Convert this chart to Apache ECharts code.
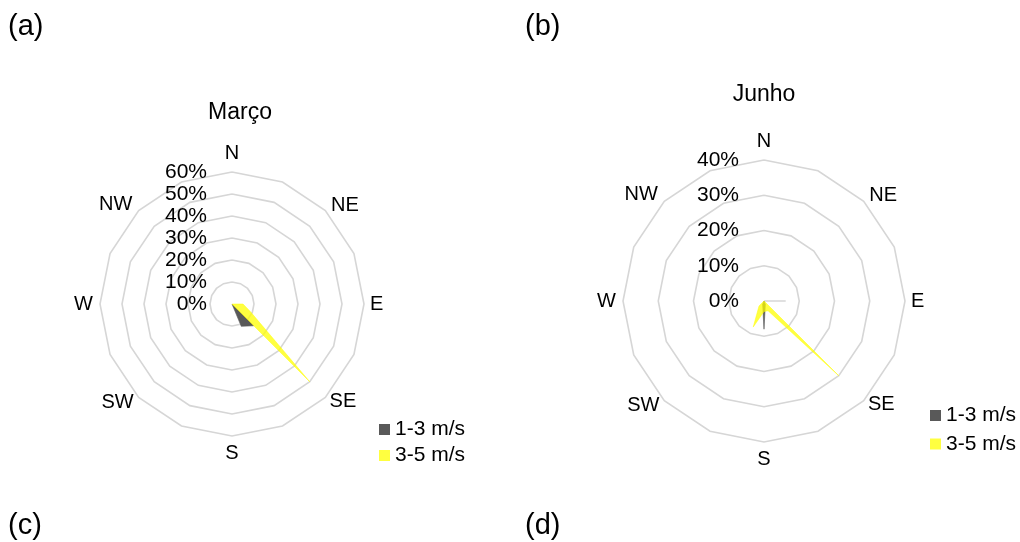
<!DOCTYPE html>
<html>
<head>
<meta charset="utf-8">
<script src="https://cdn.jsdelivr.net/npm/echarts@6/dist/echarts.min.js"></script>
<style>
  html, body { margin: 0; padding: 0; background: #ffffff; }
  #chart { width: 1020px; height: 542px; }
</style>
</head>
<body>
<div id="chart"></div>
<script>
// 16 compass sectors, clockwise from north
const directions = ['N', 'NNE', 'NE', 'ENE', 'E', 'ESE', 'SE', 'SSE', 'S', 'SSW', 'SW', 'WSW', 'W', 'WNW', 'NW', 'NNW'];
const labelledDirections = ['N', 'NE', 'E', 'SE', 'S', 'SW', 'W', 'NW'];
const speedClasses = ['1-3 m/s', '3-5 m/s'];

// Frequency (%) per sector — March
const marco13 = [0, 0, 0, 0, 0, 0, 14, 11, 0, 0, 0, 0, 0, 0, 0, 0];
const marco35 = [0, 0, 0, 0, 5, 9, 50, 0, 0, 0, 0, 0, 0, 0, 0, 0];
// Frequency (%) per sector — June
const junho01 = [0, 0, 0, 0, 6, 0, 0, 0, 0, 0, 0, 0, 0, 0, 0, 0];
const junho13 = [0, 0, 0, 0, 0, 0, 0, 1, 8, 1, 0, 0, 0, 0, 0, 0];
const junho35 = [0, 0, 0, 0, 0, 0, 30, 3, 3, 8, 2, 0, 0, 0, 0, 0];

const marcoTicks = [0, 10, 20, 30, 40, 50, 60];
const junhoTicks = [0, 10, 20, 30, 40];

const FONT = "'Liberation Sans', Arial, Helvetica, sans-serif";
const GRAY = '#595959';
const YELLOW = 'rgba(255,255,0,0.75)';
const GRID = '#d6d6d6';

// ECharts lays radar axes counter-clockwise, so walk the compass backwards
const order = directions.map((_, k) => (directions.length - k) % directions.length);
const reorder = arr => order.map(i => arr[i]);

const nameGaps = { N: 19, S: 17, E: 6, W: 7, NE: 8, SE: 6, SW: 7, NW: 9 };

function makeRadar(center, radius, ticks) {
  const max = ticks[ticks.length - 1];
  return {
    center: center,
    radius: radius,
    startAngle: 90,
    shape: 'polygon',
    splitNumber: ticks.length - 1,
    axisName: {
      color: '#000',
      fontSize: 20,
      fontFamily: FONT,
      verticalAlign: 'middle'
    },
    axisLine: { show: false },
    axisTick: { show: false },
    splitArea: { show: false },
    splitLine: { lineStyle: { color: GRID, width: 1.6 } },
    indicator: order.map((i, k) => {
      const d = directions[i];
      return {
        name: labelledDirections.includes(d) ? d : '',
        min: 0,
        max: max,
        nameGap: nameGaps[d] || 8,
        axisLabel: {
          show: k === 0,
          color: '#000',
          fontSize: 21,
          fontFamily: FONT,
          margin: 25,
          formatter: v => v + '%'
        }
      };
    })
  };
}

function item(name, values, color) {
  return {
    name: name,
    value: reorder(values),
    itemStyle: { color: color },
    lineStyle: { color: color, width: 0.6 },
    areaStyle: { color: color, opacity: 1 }
  };
}

const chart = echarts.init(document.getElementById('chart'), null, { renderer: 'canvas' });

const legendBase = {
  orient: 'vertical',
  icon: 'rect',
  itemWidth: 11,
  itemHeight: 11,
  padding: 0,
  selectedMode: false,
  textStyle: { color: '#000', fontSize: 21, fontFamily: FONT },
  data: speedClasses
};

const titleStyle = size => ({ color: '#000', fontSize: size, fontWeight: 'normal', fontFamily: FONT });

chart.setOption({
  animation: false,
  backgroundColor: '#ffffff',
  title: [
    { text: '(a)', left: 8, top: 12, padding: 0, textStyle: titleStyle(29) },
    { text: '(b)', left: 525, top: 12, padding: 0, textStyle: titleStyle(29) },
    { text: '(c)', left: 8, top: 511, padding: 0, textStyle: titleStyle(29) },
    { text: '(d)', left: 525, top: 511, padding: 0, textStyle: titleStyle(29) },
    { text: 'Março', left: 240, top: 101, padding: 0, textAlign: 'center', textStyle: titleStyle(23) },
    { text: 'Junho', left: 764, top: 83, padding: 0, textAlign: 'center', textStyle: titleStyle(23) }
  ],
  legend: [
    Object.assign({ left: 379, top: 419, itemGap: 5 }, legendBase),
    Object.assign({ left: 930, top: 405, itemGap: 7.5 }, legendBase)
  ],
  radar: [
    makeRadar([232, 304], 132, marcoTicks),
    makeRadar([764, 301], 141, junhoTicks)
  ],
  series: [
    {
      type: 'radar',
      radarIndex: 0,
      symbol: 'none',
      silent: true,
      data: [
        item(speedClasses[0], marco13, GRAY),
        item(speedClasses[1], marco35, YELLOW)
      ]
    },
    {
      type: 'radar',
      radarIndex: 1,
      symbol: 'none',
      silent: true,
      data: [
        {
          name: '0-1 m/s',
          value: reorder(junho01),
          itemStyle: { color: GRID },
          lineStyle: { color: GRID, width: 1.6 }
        },
        item(speedClasses[0], junho13, GRAY),
        item(speedClasses[1], junho35, YELLOW)
      ]
    }
  ]
});
</script>
</body>
</html>
